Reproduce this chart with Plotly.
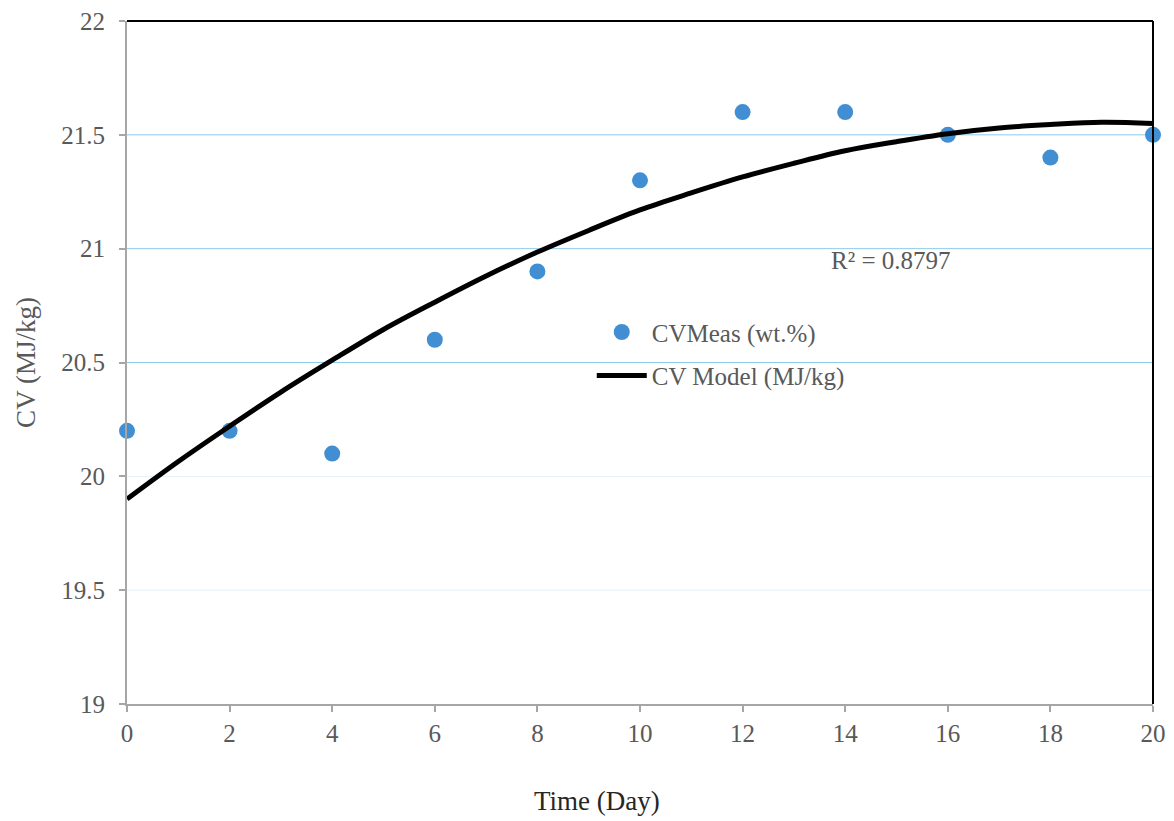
import plotly.graph_objects as go

# Measured data
days = [0, 2, 4, 6, 8, 10, 12, 14, 16, 18, 20]
cv_meas = [20.2, 20.2, 20.1, 20.6, 20.9, 21.3, 21.6, 21.6, 21.5, 21.4, 21.5]

# Model curve values
model_days = [0, 1, 2, 3, 4, 5, 6, 7, 8, 9, 10, 11, 12, 13, 14, 15, 16, 17, 18, 19, 20]
cv_model = [19.90, 20.065, 20.22, 20.37, 20.51, 20.645, 20.765, 20.88, 20.985, 21.08,
            21.17, 21.245, 21.315, 21.375, 21.43, 21.47, 21.505, 21.53, 21.545, 21.555, 21.55]

y_ticks = [19, 19.5, 20, 20.5, 21, 21.5, 22]
x_ticks = [0, 2, 4, 6, 8, 10, 12, 14, 16, 18, 20]
grid_strong = [20.5, 21, 21.5]
grid_faint = [19.5, 20]

FONT = "Liberation Serif"
GREY = "#595959"
BLUE = "#418FD2"

fig = go.Figure()

fig.add_trace(go.Scatter(
    x=days, y=cv_meas, mode="markers", name="CVMeas (wt.%)",
    marker=dict(color=BLUE, size=16), cliponaxis=False, legendgroup="a"))
fig.add_trace(go.Scatter(
    x=model_days, y=cv_model, mode="lines", name="CV Model (MJ/kg)",
    line=dict(color="black", width=5, shape="spline"), legendgroup="b"))

shapes = []
for v in grid_strong:
    shapes.append(dict(type="line", xref="paper", yref="y", x0=0, x1=1, y0=v, y1=v,
                       line=dict(color="#8DCBEA", width=1), layer="below"))
for v in grid_faint:
    shapes.append(dict(type="line", xref="paper", yref="y", x0=0, x1=1, y0=v, y1=v,
                       line=dict(color="#E3F0F8", width=1), layer="below"))
# top and right black borders
shapes.append(dict(type="line", xref="paper", yref="paper", x0=0, x1=1, y0=1, y1=1,
                   line=dict(color="black", width=2)))
shapes.append(dict(type="line", xref="paper", yref="paper", x0=1, x1=1, y0=0, y1=1,
                   line=dict(color="black", width=2)))

fig.update_layout(
    width=1166, height=813,
    margin=dict(l=119, r=21, t=13, b=117),
    paper_bgcolor="white", plot_bgcolor="white",
    font=dict(family=FONT, size=25, color=GREY),
    shapes=shapes,
    showlegend=True,
    legend=dict(x=0.453, y=0.578, xanchor="left", yanchor="top",
                bgcolor="rgba(0,0,0,0)", font=dict(size=25, color=GREY),
                traceorder="grouped", tracegroupgap=8, itemwidth=50),
    annotations=[
        dict(text="R² = 0.8797", x=0.745, y=0.649, xref="paper", yref="paper",
             showarrow=False, xanchor="center", yanchor="middle",
             font=dict(size=25, color=GREY)),
        dict(text="Time (Day)", x=0.458, y=-0.142, xref="paper", yref="paper",
             showarrow=False, xanchor="center", yanchor="middle",
             font=dict(size=27, color="#262626")),
    ],
)

fig.update_xaxes(
    range=[0, 20], tickvals=x_ticks, showgrid=False, zeroline=False,
    showline=True, linecolor="#A6A6A6", linewidth=2, automargin=False,
    ticks="outside", ticklen=6, tickcolor="#A6A6A6", tickwidth=2,
    ticklabeloverflow="allow",
    tickfont=dict(size=25, color=GREY))
fig.update_yaxes(
    range=[19, 22], tickvals=y_ticks, showgrid=False, zeroline=False,
    showline=True, linecolor="#A6A6A6", linewidth=2, automargin=False,
    ticks="outside", ticklen=6, tickcolor="#A6A6A6", tickwidth=2,
    ticklabeloverflow="allow",
    tickfont=dict(size=25, color=GREY), ticklabelstandoff=9,
    title=dict(text="CV (MJ/kg)", font=dict(size=27, color=GREY), standoff=18))

fig.write_html("out.html")
